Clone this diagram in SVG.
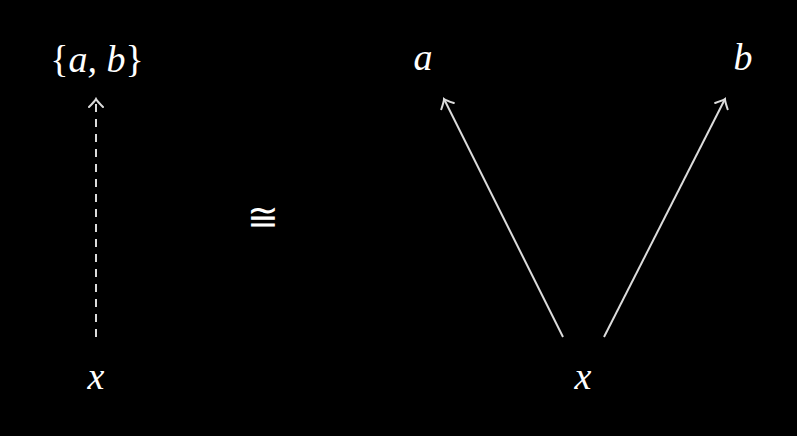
<svg xmlns="http://www.w3.org/2000/svg" width="797" height="436" viewBox="0 0 797 436">
<style>
text{font-family:"Liberation Serif","DejaVu Serif",serif;font-style:italic;fill:#fff;font-size:38px;text-anchor:middle}
.up{font-style:normal}
.c{fill:none;stroke:#dcdcdc;stroke-width:2}
.d{stroke-dasharray:8 7}
</style>
<defs>
<marker id="h" viewBox="-10 -8 12 16" markerWidth="12" markerHeight="16" refX="0" refY="0" orient="auto" markerUnits="userSpaceOnUse">
<path d="M-8,-7 Q-2,-1 0,0 Q-2,1 -8,7" fill="none" stroke="#dcdcdc" stroke-width="2" stroke-linecap="round"/>
</marker>
</defs>
<rect width="797" height="436" fill="#000"/>
<g id="connectors">
<line class="c d" x1="96" y1="337" x2="96" y2="99" marker-end="url(#h)"/>
<line class="c" x1="563" y1="337" x2="444" y2="99" marker-end="url(#h)"/>
<line class="c" x1="604" y1="337" x2="725" y2="99" marker-end="url(#h)"/>
</g>
<g id="node-ab"><text x="97" y="72"><tspan class="up">{</tspan>a, b<tspan class="up">}</tspan></text></g>
<g id="node-x1"><text x="96" y="389">x</text></g>
<g id="iso"><text class="up" x="263" y="230" style="font-style:normal">≅</text></g>
<g id="node-a"><text x="423" y="70">a</text></g>
<g id="node-b"><text x="743" y="70">b</text></g>
<g id="node-x2"><text x="583" y="389">x</text></g>
</svg>
